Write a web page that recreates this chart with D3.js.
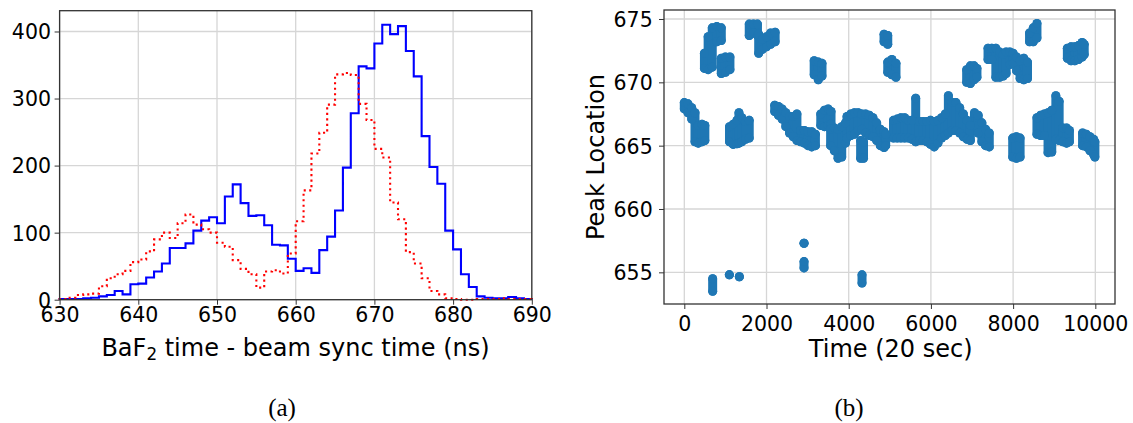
<!DOCTYPE html>
<html>
<head>
<meta charset="utf-8">
<script src="https://cdn.jsdelivr.net/npm/d3@7"></script>
<style>
  body { margin: 0; background: #fff; }
  text { font-family: "DejaVu Sans", sans-serif; fill: #000; }
  .caption { font-family: "Liberation Serif", "Times New Roman", serif; }
</style>
</head>
<body>
<svg id="fig" width="1133" height="423"></svg>
<script>
// ---------- panel (a): BaF2 timing histograms, 1 ns bins ----------
const binEdges = [630,631,632,633,634,635,636,637,638,639,640,641,642,643,644,645,646,647,648,649,
                  650,651,652,653,654,655,656,657,658,659,660,661,662,663,664,665,666,667,668,669,
                  670,671,672,673,674,675,676,677,678,679,680,681,682,683,684,685,686,687,688,689,690];
const countsSolid = [1,1,1,2,3,5,7,13,8,23, 24,33,42,54,77,77,84,103,118,123,
                     114,154,172,144,125,126,111,82,81,61, 43,47,40,74,94,133,197,278,348,345,
                     382,410,396,408,371,333,244,198,173,103, 75,38,19,5,3,2,2,4,2,1];
const countsDotted = [1,3,7,8,9,20,32,38,43,56, 60,72,90,100,92,114,127,112,105,100,
                      85,79,59,46,38,18,42,44,39,69, 117,163,218,249,291,336,338,335,292,268,
                      225,212,145,120,71,54,32,13,8,2, 1,0,0,1,1,1,2,1,1,1];
const timeTicks = [630,640,650,660,670,680,690];
const countTicks = [0,100,200,300,400];

// ---------- panel (b): fitted peak location vs. run time ----------
// each entry is one time slice: the lowest and highest peak location found there
const sliceTime = [
  0,90,180,260,340,430,500,
  490,580,680,790,900,900,1000,1110,
  1100,1190,1280,1330,1400,1490,1580,
  1580,1680,1780,1810,1900,2000,2100,2210,
  2200,2290,2380,2470,2560,2650,2740,2830,2920,3010,3100,3190,
  3160,3260,3350,
  3320,3410,3500,3570,
  3560,3650,3740,3830,3920,
  3960,4050,4140,4230,4320,4410,4500,4590,4680,4770,4860,4900,4290,4360,
  4860,4950,4950,5050,5150,
  5090,5180,5270,5360,5450,5540,5630,5720,5810,5900,5990,6080,6170,6260,6350,6425,6520,6610,6700,6790,6880,6960,
  6870,6960,7050,7120,
  7060,7150,7240,7330,7420,
  7390,7480,7580,7670,7760,7830,7920,8000,8085,8170,8260,8350,
  7990,8080,8170,
  8400,8490,8580,
  8580,8670,8760,8850,8940,9040,9120,9210,9300,9370,
  9320,9410,9500,9590,9680,9730,
  9690,9780,9870,9960,9990,
  690,1096,1339,2913,2913,4324
];
const peakLow = [
  667.9,667.6,667.1,665.3,665.2,665.3,665.4,
  671.1,671.0,671.2,673.2,673.3,670.7,670.8,671.0,
  665.3,665.1,665.15,665.2,665.3,665.5,665.6,
  673.7,673.9,673.7,672.3,672.6,672.8,673.0,673.2,
  667.7,667.4,667.1,666.5,666.0,665.7,665.4,665.3,665.2,665.0,664.9,665.0,
  670.6,670.2,670.5,
  666.6,666.5,666.6,666.7,
  665.0,664.6,664.0,664.1,665.2,
  665.6,665.8,665.9,666.2,666.3,666.0,665.8,665.7,665.4,665.0,664.85,665.0,664.0,664.0,
  673.2,673.0,670.8,670.6,670.4,
  665.6,665.6,665.6,665.6,665.6,665.5,665.3,665.4,665.4,665.3,665.1,664.9,665.2,665.6,665.8,666.0,666.2,666.2,666.0,665.7,665.5,665.4,
  670.0,669.9,670.2,670.4,
  666.6,666.0,665.3,665.0,664.9,
  671.8,671.8,670.4,670.4,670.5,670.7,671.4,671.5,670.9,670.3,670.2,670.3,
  664.1,664.0,664.1,
  673.2,673.2,673.5,
  665.9,665.8,665.8,664.45,664.5,665.5,665.4,665.3,665.2,665.3,
  671.9,671.7,671.7,671.8,672.0,672.2,
  665.0,664.9,664.6,664.3,664.1,
  653.5,654.8,654.65,657.3,655.35,654.15
];
const peakHigh = [
  668.4,668.3,668.0,667.6,666.6,666.7,666.6,
  672.3,673.6,674.3,674.4,674.3,671.9,672.0,672.0,
  666.5,666.7,667.0,667.6,667.2,666.9,667.0,
  674.6,674.6,674.6,673.8,673.4,673.6,673.9,673.95,
  668.2,668.1,667.9,667.6,667.3,667.3,667.5,666.2,666.2,666.1,666.1,665.9,
  671.7,671.6,671.5,
  667.5,667.8,667.9,667.7,
  666.3,666.4,666.3,666.5,666.8,
  667.3,667.5,667.6,667.6,667.5,667.5,667.4,667.2,666.8,666.3,666.1,665.9,665.4,665.3,
  673.8,673.7,671.6,671.8,671.5,
  667.0,667.1,667.2,667.2,667.0,667.0,668.75,666.9,666.9,666.9,667.0,666.9,667.0,667.2,667.5,668.95,668.4,668.4,668.0,667.5,667.0,666.6,
  671.0,671.3,671.3,671.1,
  667.6,667.4,666.8,666.3,666.0,
  672.7,672.7,672.7,672.4,672.2,672.4,672.4,672.3,672.0,671.7,671.9,671.6,
  665.6,665.7,665.6,
  673.9,674.3,674.65,
  667.2,667.4,667.5,667.6,667.8,668.95,668.5,666.4,666.4,666.2,
  672.7,672.8,672.8,672.9,673.15,673.0,
  666.0,665.9,665.7,665.5,665.3,
  654.5,654.8,654.65,657.3,655.85,654.8
];
const runTicks = [0,2000,4000,6000,8000,10000];
const peakTicks = [655,660,665,670,675];

// ---------- drawing ----------
const GRID = "#d6d6d6", SPINE = "#333", TICK_FONT = 20.5, LABEL_FONT = 24;
const svg = d3.select("#fig");
svg.append("rect").attr("width", 1133).attr("height", 423).attr("fill", "#fff");

function drawFrame(x, y, xTicks, yTicks, xLabelOffset, yLabelOffset) {
  const [x0, x1] = x.range(), [y0, y1] = y.range();
  const g = svg.append("g");
  // grid
  g.selectAll(".gx").data(xTicks).join("line")
    .attr("x1", d => x(d)).attr("x2", d => x(d)).attr("y1", y1).attr("y2", y0)
    .attr("stroke", GRID).attr("stroke-width", 1.3);
  g.selectAll(".gy").data(yTicks).join("line")
    .attr("x1", x0).attr("x2", x1).attr("y1", d => y(d)).attr("y2", d => y(d))
    .attr("stroke", GRID).attr("stroke-width", 1.3);
  return function finish() {
    svg.append("rect").attr("x", x0).attr("y", y1).attr("width", x1 - x0).attr("height", y0 - y1)
      .attr("fill", "none").attr("stroke", SPINE).attr("stroke-width", 1.3);
    const ax = svg.append("g").attr("transform", `translate(0,${y0})`)
      .call(d3.axisBottom(x).tickValues(xTicks).tickSize(5).tickFormat(d3.format("d")));
    ax.select(".domain").remove();
    ax.selectAll("line").attr("stroke", SPINE);
    ax.selectAll("text").attr("y", xLabelOffset).attr("dy", 0)
      .style("font-size", TICK_FONT + "px").style("font-family", "DejaVu Sans").attr("fill", "#000");
    const ay = svg.append("g").attr("transform", `translate(${x0},0)`)
      .call(d3.axisLeft(y).tickValues(yTicks).tickSize(5).tickFormat(d3.format("d")));
    ay.select(".domain").remove();
    ay.selectAll("line").attr("stroke", SPINE);
    ay.selectAll("text").attr("x", -yLabelOffset).attr("dy", "0.36em")
      .style("font-size", TICK_FONT + "px").style("font-family", "DejaVu Sans").attr("fill", "#000");
  };
}

// panel (a)
const xH = d3.scaleLinear().domain([630, 690]).range([59.6, 531.8]);
const yH = d3.scaleLinear().domain([0, 431]).range([299.7, 10.7]);
const finishA = drawFrame(xH, yH, timeTicks, countTicks, 22, 8.6);

function stepPoints(counts) {
  const pts = [[binEdges[0], 0]];
  counts.forEach((c, i) => { pts.push([binEdges[i], c], [binEdges[i + 1], c]); });
  pts.push([binEdges[binEdges.length - 1], 0]);
  return pts;
}
const stepLine = d3.line().x(d => xH(d[0])).y(d => yH(d[1]));
svg.append("path").attr("d", stepLine(stepPoints(countsSolid)))
  .attr("fill", "none").attr("stroke", "#0000ff").attr("stroke-width", 2.1)
  .attr("stroke-linejoin", "miter");
svg.append("path").attr("d", stepLine(stepPoints(countsDotted)))
  .attr("fill", "none").attr("stroke", "#ff0000").attr("stroke-width", 2.1)
  .attr("stroke-dasharray", "2.1 3.4");
finishA();

const xl = svg.append("text").attr("x", 295.5).attr("y", 356).attr("text-anchor", "middle")
  .style("font-size", LABEL_FONT + "px");
xl.append("tspan").text("BaF");
xl.append("tspan").text("2").attr("baseline-shift", "-22%").style("font-size", (LABEL_FONT * 0.7) + "px");
xl.append("tspan").text(" time - beam sync time (ns)");

// panel (b)
const xS = d3.scaleLinear().domain([-494, 10479]).range([664, 1115]);
const yS = d3.scaleLinear().domain([652.5, 675.71]).range([304, 10]);
const finishB = drawFrame(xS, yS, runTicks, peakTicks, 26.7, 11.3);

const R = 4.5, DOT = "#1f77b4";
const slices = sliceTime.map((t, i) => ({ t, lo: peakLow[i], hi: peakHigh[i] }));
const gs = svg.append("g");
gs.selectAll("line").data(slices).join("line")
  .attr("x1", d => xS(d.t)).attr("x2", d => xS(d.t))
  .attr("y1", d => yS(d.lo)).attr("y2", d => yS(d.hi))
  .attr("stroke", DOT).attr("stroke-width", 2 * R).attr("stroke-linecap", "round");
gs.selectAll("circle.lo").data(slices).join("circle").attr("class", "lo")
  .attr("cx", d => xS(d.t)).attr("cy", d => yS(d.lo)).attr("r", R).attr("fill", DOT);
gs.selectAll("circle.hi").data(slices).join("circle").attr("class", "hi")
  .attr("cx", d => xS(d.t)).attr("cy", d => yS(d.hi)).attr("r", R).attr("fill", DOT);
finishB();

svg.append("text").attr("x", 890.7).attr("y", 357).attr("text-anchor", "middle")
  .style("font-size", LABEL_FONT + "px").text("Time (20 sec)");
svg.append("text").attr("transform", "translate(604,157) rotate(-90)").attr("text-anchor", "middle")
  .style("font-size", LABEL_FONT + "px").text("Peak Location");

// sub-figure captions
svg.append("text").attr("class", "caption").attr("x", 282).attr("y", 416).attr("text-anchor", "middle")
  .style("font-size", "25px").text("(a)");
svg.append("text").attr("class", "caption").attr("x", 849).attr("y", 416).attr("text-anchor", "middle")
  .style("font-size", "25px").text("(b)");
</script>
</body>
</html>
